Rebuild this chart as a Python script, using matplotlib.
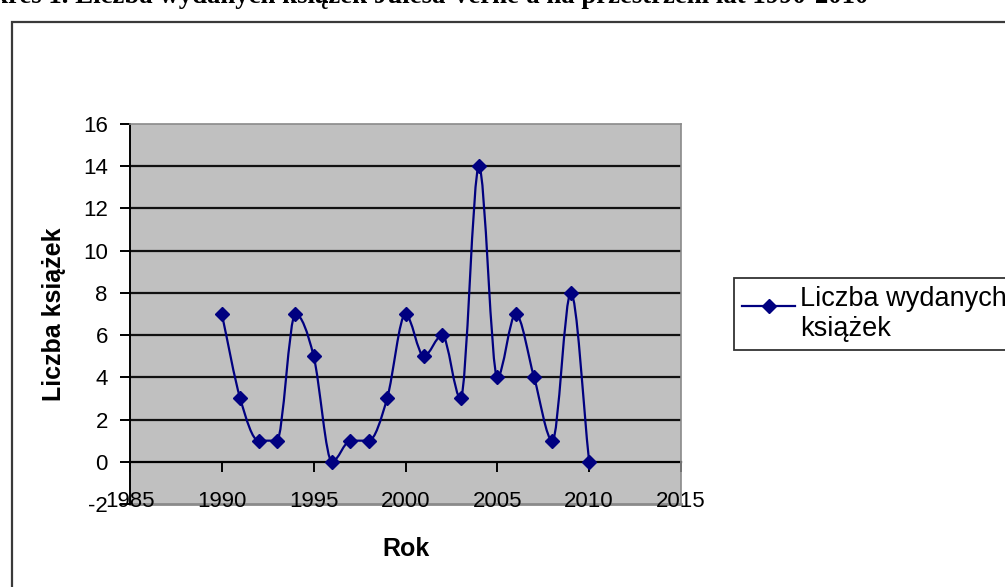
import matplotlib
matplotlib.use("Agg")
import matplotlib.pyplot as plt
from matplotlib.path import Path
from matplotlib.patches import PathPatch, Rectangle
from matplotlib.lines import Line2D
from matplotlib.legend_handler import HandlerLine2D
import numpy as np

# Number of Jules Verne books published per year
years = [1990, 1991, 1992, 1993, 1994, 1995, 1996, 1997, 1998, 1999, 2000,
         2001, 2002, 2003, 2004, 2005, 2006, 2007, 2008, 2009, 2010]
books = [7, 3, 1, 1, 7, 5, 0, 1, 1, 3, 7,
         5, 6, 3, 14, 4, 7, 4, 1, 8, 0]

x_ticks = [1985, 1990, 1995, 2000, 2005, 2010, 2015]
y_ticks = [-2, 0, 2, 4, 6, 8, 10, 12, 14, 16]

title = "Wykres 1. Liczba wydanych książek Julesa Verne'a na przestrzeni lat 1990-2010"
x_label = "Rok"
y_label = "Liczba książek"
series_label = "Liczba wydanych\nksiążek"

NAVY = "#000080"
PLOT_BG = "#C0C0C0"

plt.rcParams["font.family"] = ["Liberation Sans", "DejaVu Sans"]
plt.rcParams["axes.unicode_minus"] = False

W, H = 1005, 587
fig = plt.figure(figsize=(W / 100, H / 100), dpi=100)

# Outer chart frame (runs past the right and bottom edges)
fig.patches.append(Rectangle((12 / W, -0.05), 1.2, 1 - 22 / H + 0.05,
                             transform=fig.transFigure, fill=False,
                             edgecolor="#3a3a3a", linewidth=1.6, zorder=0))

# Caption above the chart
fig.text(868 / W, 1 - 3 / H, title, ha="right", va="baseline",
         fontsize=19.3, fontweight="bold",
         family=["Liberation Serif", "DejaVu Serif"])

ax = fig.add_axes([130 / W, 1 - 504 / H, 551 / W, 380 / H])
ax.set_facecolor(PLOT_BG)
ax.set_xlim(x_ticks[0], x_ticks[-1])
ax.set_ylim(y_ticks[0], y_ticks[-1])

# Horizontal grid lines
for v in y_ticks[2:-1]:
    ax.axhline(v, color="#111111", linewidth=1.6, zorder=1)

for side in ("top", "right"):
    ax.spines[side].set_color("#8a8a8a")
    ax.spines[side].set_linewidth(1.2)
ax.spines["left"].set_color("black")
ax.spines["left"].set_linewidth(1.4)
ax.spines["bottom"].set_position(("data", 0))
ax.spines["bottom"].set_color("black")
ax.spines["bottom"].set_linewidth(1.6)
ax.spines["bottom"].set_zorder(1)

# Lower plot-area border
ax.axhline(y_ticks[0], color="#8a8a8a", linewidth=2.0, zorder=1, clip_on=False)

ax.set_xticks(x_ticks)
ax.set_yticks(y_ticks)
ax.tick_params(axis="x", direction="out", length=7, width=1.4, pad=14,
               labelsize=16, color="black")
ax.tick_params(axis="y", direction="out", length=7, width=1.4, pad=9,
               labelsize=16, color="black")

ax.set_xlabel(x_label, fontsize=18, fontweight="bold", labelpad=18)
ax.set_ylabel(y_label, fontsize=18, fontweight="bold", labelpad=12)

# Smoothed line through the points: cubic Bezier segments with
# shape-preserving tangents (flat at local extrema, no overshoot)
xs = np.asarray(years, dtype=float)
ys = np.asarray(books, dtype=float)
n = len(xs)
d = np.diff(ys) / np.diff(xs)
m = np.zeros(n)
m[0], m[-1] = d[0], d[-1]
for i in range(1, n - 1):
    if d[i - 1] * d[i] <= 0:
        m[i] = 0.0
    else:
        m[i] = (d[i - 1] + d[i]) / 2.0
for i in range(n - 1):
    if d[i] == 0:
        m[i] = m[i + 1] = 0.0
        continue
    a, b = m[i] / d[i], m[i + 1] / d[i]
    s = a * a + b * b
    if s > 9:
        t = 3 / np.sqrt(s)
        m[i], m[i + 1] = t * a * d[i], t * b * d[i]

verts = [(xs[0], ys[0])]
codes = [Path.MOVETO]
for i in range(n - 1):
    h = xs[i + 1] - xs[i]
    verts += [(xs[i] + h / 3, ys[i] + m[i] * h / 3),
              (xs[i + 1] - h / 3, ys[i + 1] - m[i + 1] * h / 3),
              (xs[i + 1], ys[i + 1])]
    codes += [Path.CURVE4] * 3
ax.add_patch(PathPatch(Path(verts, codes), facecolor="none",
                       edgecolor=NAVY, linewidth=1.6, zorder=3))
ax.plot(xs, ys, linestyle="none", marker="D", markersize=7.5,
        color=NAVY, zorder=4)


class RaisedLineHandler(HandlerLine2D):
    """Legend key placed level with the first line of a two-line label."""

    def create_artists(self, legend, orig_handle, xdescent, ydescent,
                       width, height, fontsize, trans):
        return super().create_artists(legend, orig_handle, xdescent,
                                      ydescent - 13, width, height,
                                      fontsize, trans)


handle = Line2D([], [], color=NAVY, linewidth=1.6, marker="D",
                markersize=7.5)
leg = fig.legend([handle], [series_label], loc="upper left",
                 bbox_to_anchor=(734 / W, 1 - 278 / H),
                 bbox_transform=fig.transFigure,
                 handler_map={Line2D: RaisedLineHandler()},
                 fontsize=19.5, frameon=True, fancybox=False,
                 edgecolor="black", handlelength=1.95, handletextpad=0.2,
                 borderpad=0.3, borderaxespad=0, labelspacing=0.2)
leg.get_frame().set_linewidth(1.3)

fig.savefig("out.png", dpi=100)
